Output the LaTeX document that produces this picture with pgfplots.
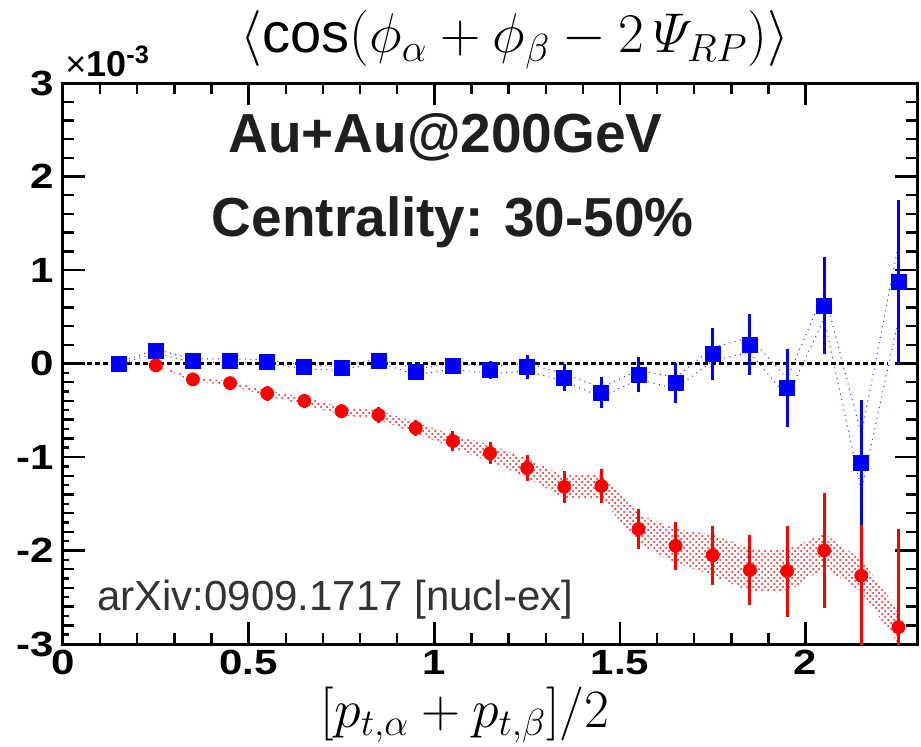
\documentclass[border=0pt]{standalone}
\usepackage{fix-cm}
\usepackage{fontspec}
\setmainfont{Liberation Sans}
\newfontfamily\tickfont{Liberation Sans}[FakeStretch=1.2]
\usepackage{pgfplots}
\pgfplotsset{compat=1.18}
\usepackage{pgfplotstable}
\usepgfplotslibrary{fillbetween}
\usetikzlibrary{patterns}

% same-sign pairs (alpha = beta): x, value, stat. error, syst. half-width  (units of 1e-3)
\pgfplotstableread{
x     y      e     s
0.15  0.00   0.02  0.01
0.25  0.13   0.02  0.02
0.35  0.03   0.02  0.02
0.45  0.03   0.02  0.02
0.55  0.02   0.02  0.02
0.65 -0.04   0.02  0.02
0.75 -0.05   0.02  0.02
0.85  0.03   0.02  0.02
0.95 -0.09   0.03  0.03
1.05 -0.03   0.04  0.03
1.15 -0.07   0.05  0.04
1.25 -0.04   0.08  0.04
1.35 -0.15   0.10  0.04
1.45 -0.31   0.12  0.05
1.55 -0.12   0.14  0.05
1.65 -0.21   0.17  0.06
1.75  0.10   0.23  0.07
1.85  0.20   0.28  0.08
1.95 -0.26   0.37  0.10
2.05  0.62   0.47  0.14
2.15 -1.06   0.62  0.30
2.25  0.87   0.83  0.40
}\bluedata

% opposite-sign pairs
\pgfplotstableread{
x     y      e     s
0.25 -0.02   0.02  0.01
0.35 -0.17   0.02  0.02
0.45 -0.21   0.02  0.02
0.55 -0.32   0.03  0.03
0.65 -0.40   0.03  0.04
0.75 -0.51   0.03  0.04
0.85 -0.55   0.04  0.05
0.95 -0.69   0.04  0.06
1.05 -0.83   0.06  0.07
1.15 -0.96   0.07  0.09
1.25 -1.12   0.09  0.10
1.35 -1.32   0.12  0.12
1.45 -1.31   0.14  0.13
1.55 -1.77   0.17  0.16
1.65 -1.95   0.21  0.18
1.75 -2.05   0.27  0.22
1.85 -2.21   0.33  0.23
1.95 -2.22   0.44  0.23
2.05 -2.00   0.57  0.18
2.15 -2.27   0.75  0.17
2.25 -2.82   1.00  0.18
}\reddata

\begin{document}
\begin{tikzpicture}
\begin{axis}[
  scale only axis,
  width=427pt, height=280.5pt,
  xmin=0, xmax=2.3, ymin=-3, ymax=3,
  xtick={0,0.5,1,1.5,2}, xticklabels={0,0.5,1,1.5,2},
  ytick={-3,-2,-1,0,1,2,3}, yticklabels={-3,-2,-1,0,1,2,3},
  minor x tick num=4, minor y tick num=4,
  tick align=inside,
  major tick length=11pt, minor tick length=5.5pt,
  axis line style={line width=1.5pt},
  tick style={black, line width=1.2pt},
  tick label style={font=\tickfont\fontsize{17.5}{18}\selectfont\bfseries},
  xticklabel style={inner sep=1pt, yshift=-2pt},
  yticklabel style={xshift=-1pt},
  extra y ticks={-2.9,-2.7,-2.5,-2.3,-2.1,-1.9,-1.7,-1.5,-1.3,-1.1,-0.9,-0.7,-0.5,-0.3,-0.1},
  extra y tick labels={},
  extra y tick style={major tick length=3pt, ytick pos=left},
]
  % systematic band, opposite-sign
  \addplot[name path=redup, draw=none, forget plot] table[x=x, y expr=\thisrow{y}+\thisrow{s}] {\reddata};
  \addplot[name path=redlo, draw=none, forget plot] table[x=x, y expr=\thisrow{y}-\thisrow{s}] {\reddata};
  \addplot[pattern=crosshatch dots, pattern color=red, draw=none] fill between[of=redup and redlo];

  % systematic band, same-sign (dotted outline only)
  \addplot[blue!85, line width=0.5pt, dash pattern=on 0.5pt off 2.2pt] table[x=x, y expr=\thisrow{y}+\thisrow{s}] {\bluedata};
  \addplot[blue!85, line width=0.5pt, dash pattern=on 0.5pt off 2.2pt] table[x=x, y expr=\thisrow{y}-\thisrow{s}] {\bluedata};

  % zero line
  \addplot[black, line width=1.5pt, dash pattern=on 2.5pt off 1.5pt] coordinates {(0,0) (2.22,0)};

  \addplot[red, only marks, mark=*, mark size=3.25pt,
    error bars/.cd, y dir=both, y explicit,
    error bar style={line width=1.5pt, red},
    error mark options={line width=1.5pt, mark size=2.2pt, red}]
    table[x=x, y=y, y error=e] {\reddata};

  \addplot[blue, only marks, mark=square*, mark size=3.75pt,
    error bars/.cd, y dir=both, y explicit,
    error bar style={line width=1.5pt, blue},
    error mark options={line width=1.5pt, mark size=2.2pt, blue}]
    table[x=x, y=y, y error=e] {\bluedata};

  \node[font=\fontsize{27.5}{30}\selectfont\bfseries, text=black!88] at (axis cs:1.03,2.42) {Au+Au@200GeV};
  \node[font=\fontsize{27.5}{30}\selectfont\bfseries, text=black!88] at (axis cs:1.05,1.51) {Centrality: 30-50\%};
  \node[font=\fontsize{21}{24}\selectfont, text=black!80] at (axis cs:0.733,-2.53) {arXiv:0909.1717 [nucl-ex]};
\end{axis}

\node[font=\fontsize{28}{31}\selectfont] at ([shift={(226pt,21.5pt)}]current axis.north west)
  {$\Bigl\langle\cos\Bigl(\phi_{\alpha}+\phi_{\beta}-2\,\mathnormal{\Psi}_{RP}\Bigr)\Bigr\rangle$};
\node[font=\fontsize{27}{29}\selectfont, inner sep=0pt] at ([shift={(201pt,-35.5pt)}]current axis.south west)
  {$[p_{t,\alpha}+p_{t,\beta}]/2$};
\node[anchor=south west, inner sep=0pt, font=\fontsize{18}{18}\selectfont]
  at ([shift={(1pt,3pt)}]current axis.north west) {×\textbf{10}\textsuperscript{\textbf{-3}}};

\pgfresetboundingbox
\path[use as bounding box] ([shift={(-31.5pt,-51pt)}]current axis.south west)
  rectangle ([shift={(2pt,41.5pt)}]current axis.north east);
\end{tikzpicture}
\end{document}
